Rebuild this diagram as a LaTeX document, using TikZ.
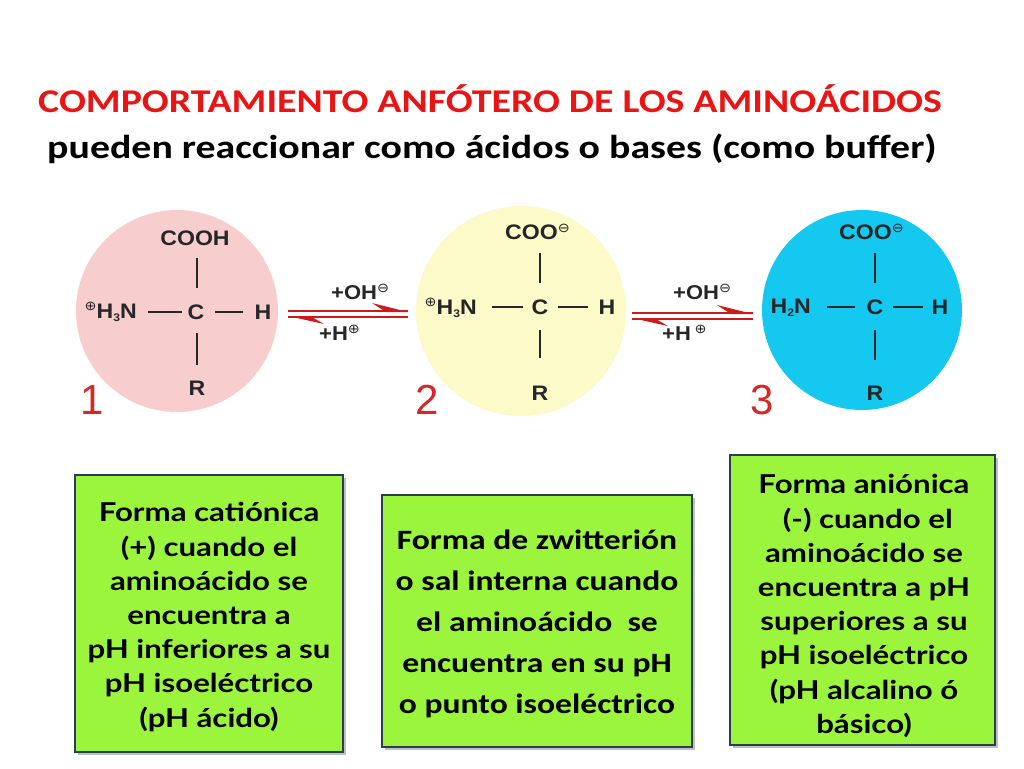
\documentclass[tikz,border=0pt]{standalone}
\usepackage{fontspec}
\setmainfont{Carlito}
\newfontfamily\chemfont{Liberation Sans}
\newfontfamily\boxfont{Lato}
\newfontfamily\symfont{DejaVu Sans}
\definecolor{titlered}{RGB}{235,20,20}
\definecolor{numred}{RGB}{215,40,40}
\definecolor{arrred}{RGB}{205,25,25}
\definecolor{pinkfill}{RGB}{248,205,205}
\definecolor{yellowfill}{RGB}{252,250,200}
\definecolor{cyanfill}{RGB}{20,200,240}
\definecolor{boxgreen}{RGB}{155,245,60}
\definecolor{boxborder}{RGB}{45,60,85}
\newcommand{\chpos}{\raisebox{0.65ex}{\symfont\mdseries\fontsize{13}{13}\selectfont ⊕}}
\newcommand{\chneg}{\raisebox{0.65ex}{\symfont\mdseries\fontsize{13}{13}\selectfont ⊖}}
\newcommand{\chsub}[1]{\raisebox{-0.3ex}{\fontsize{11}{11}\selectfont #1}}
\begin{document}
\begin{tikzpicture}[x=1pt,y=-1pt,
  chem/.style={font=\chemfont\bfseries\fontsize{21}{23}\selectfont, inner sep=0pt, text=black!85, xscale=1.1},
  bond/.style={line width=2.6pt, black!85},
  num/.style={font=\chemfont\fontsize{42}{44}\selectfont, text=numred, inner sep=0pt},
  rxline/.style={line width=2.2pt, arrred},
  rxlab/.style={font=\chemfont\bfseries\fontsize{20}{22}\selectfont, inner sep=0pt, text=black!85, xscale=1.1},
  infobox/.style={draw=boxborder, line width=2pt, fill=boxgreen, inner sep=0pt},
  boxtxt/.style={align=center, inner sep=0pt, xscale=1.2, font=\boxfont\bfseries\fontsize{26}{34.2}\selectfont},
  boxtxtb/.style={align=center, inner sep=0pt, xscale=1.2, font=\bfseries\fontsize{28}{41}\selectfont},
  titletxt/.style={anchor=west, inner sep=0pt, xscale=1.2, font=\bfseries\fontsize{33.2}{36}\selectfont}
]
\useasboundingbox (0,0) rectangle (1024,768);
\fill[white] (0,0) rectangle (1024,768);

% titles
\node[titletxt, text=titlered] (title) at (38,99) {COMPORTAMIENTO ANFÓTERO DE LOS AMINOÁCIDOS};
\node[titletxt] (subtitle) at (47,149) {pueden reaccionar como ácidos o bases (como buffer)};

% circles
\fill[pinkfill] (177,311) circle [radius=101];
\fill[yellowfill] (521,311) circle [radius=105];
\fill[cyanfill] (862,310) circle [radius=100];

% molecule 1
\node[chem] (c1) at (196,312) {C};
\node[chem] (top1) at (195,238) {COOH};
\node[chem] (r1) at (197,388) {R};
\node[chem] (h1) at (263,312) {H};
\node[chem, anchor=east] (n1) at (137,312) {\chpos H\chsub{3}N};
\draw[bond] (197,258) -- (197,288);
\draw[bond] (197,333) -- (197,365);
\draw[bond] (148,312) -- (182,312);
\draw[bond] (215,312) -- (243,312);
\node[num] (l1) at (92,400) {1};

% molecule 2
\node[chem] (c2) at (540,307) {C};
\node[chem, anchor=west] (top2) at (505,232) {COO\chneg};
\node[chem] (r2) at (540,393) {R};
\node[chem] (h2) at (607,307) {H};
\node[chem, anchor=east] (n2) at (477,308) {\chpos H\chsub{3}N};
\draw[bond] (540,253) -- (540,283);
\draw[bond] (540,330) -- (540,358);
\draw[bond] (492,307) -- (523,307);
\draw[bond] (558,307) -- (588,307);
\node[num] (l2) at (427,400) {2};

% molecule 3
\node[chem] (c3) at (875,307) {C};
\node[chem, anchor=west] (top3) at (839,232) {COO\chneg};
\node[chem] (r3) at (875,393) {R};
\node[chem] (h3) at (940,307) {H};
\node[chem, anchor=east] (n3) at (811,308) {H\chsub{2}N};
\draw[bond] (875,253) -- (875,283);
\draw[bond] (875,330) -- (875,360);
\draw[bond] (827,307) -- (855,307);
\draw[bond] (893,307) -- (923,307);
\node[num] (l3) at (762,400) {3};

% equilibrium arrow 1
\coordinate (a1l) at (288,311); \coordinate (a1r) at (408,311);
\coordinate (b1l) at (288,317); \coordinate (b1r) at (408,317);
\draw[rxline] (a1l) -- (a1r);
\fill[arrred] (408,312) -- (372,303) -- (386,312) -- cycle;
\draw[rxline] (b1l) -- (b1r);
\fill[arrred] (288,316) -- (324,324) -- (310,316) -- cycle;
\node[rxlab, anchor=west] (oh1) at (331,292) {+OH\chneg};
\node[rxlab, anchor=west] (hp1) at (319,333) {+H\chpos};

% equilibrium arrow 2
\coordinate (a2l) at (632,313); \coordinate (a2r) at (753,313);
\coordinate (b2l) at (632,319); \coordinate (b2r) at (753,319);
\draw[rxline] (a2l) -- (a2r);
\fill[arrred] (753,314) -- (717,305) -- (731,314) -- cycle;
\draw[rxline] (b2l) -- (b2r);
\fill[arrred] (632,318) -- (668,326) -- (654,318) -- cycle;
\node[rxlab, anchor=west] (oh2) at (673,292) {+OH\chneg};
\node[rxlab, anchor=west] (hp2) at (662,333) {+H\,\chpos};

% boxes
\fill[black!25] (78,478) rectangle (346,755);
\draw[infobox] (75,475) rectangle (343,752);
\node[boxtxt] (t1) at (209,617) {Forma catiónica\\(+) cuando el\\aminoácido se\\encuentra a\\pH inferiores a su\\pH isoeléctrico\\(pH ácido)};

\fill[black!25] (385,498) rectangle (695,750);
\draw[infobox] (382,495) rectangle (692,747);
\node[boxtxtb] (t2) at (537,624) {Forma de zwitterión\\o sal interna cuando\\el aminoácido\ \ se\\encuentra en su pH\\o punto isoeléctrico};

\fill[black!25] (733,458) rectangle (998,748);
\draw[infobox] (730,455) rectangle (995,745);
\node[boxtxt] (t3) at (864,606) {Forma aniónica\\\ (-) cuando el\\aminoácido se\\encuentra a pH\\superiores a su\\pH isoeléctrico\\(pH alcalino ó\\básico)};
\end{tikzpicture}
\end{document}
